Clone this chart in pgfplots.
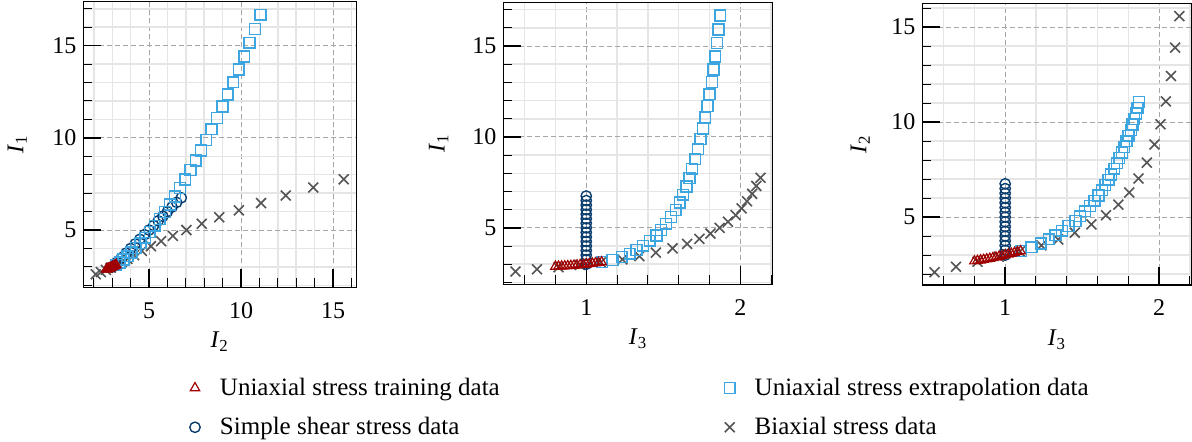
\documentclass[border=0pt]{standalone}
\usepackage{fontspec}
\setmainfont{Liberation Serif}
\usepackage{pgfplots}
\usepackage{pgfplotstable}
\pgfplotsset{compat=1.18}
\definecolor{trainred}{HTML}{A00000}
\definecolor{extblue}{HTML}{3DA5E0}
\definecolor{shearblue}{HTML}{0B3D6E}
\definecolor{biaxgray}{HTML}{555555}

\pgfplotstableread{
I1 I2 I3
2.876 2.681 0.80
2.881 2.705 0.82
2.888 2.730 0.84
2.896 2.758 0.86
2.906 2.787 0.88
2.918 2.819 0.90
2.932 2.852 0.92
2.946 2.887 0.94
2.963 2.923 0.96
2.981 2.961 0.98
3.000 3.000 1.00
3.021 3.041 1.02
3.043 3.083 1.04
3.066 3.126 1.06
3.091 3.171 1.08
3.117 3.216 1.10
}\train

\pgfplotstableread{
I1 I2 I3
3.12 3.22 1.104
3.24 3.41 1.170
3.40 3.61 1.231
3.58 3.83 1.283
3.79 4.04 1.326
4.02 4.28 1.369
4.29 4.53 1.412
4.58 4.79 1.456
4.89 5.04 1.486
5.23 5.31 1.518
5.60 5.58 1.551
5.98 5.86 1.581
6.39 6.14 1.607
6.82 6.41 1.629
7.28 6.69 1.650
7.75 6.97 1.671
8.25 7.25 1.687
8.77 7.54 1.708
9.32 7.83 1.726
9.88 8.11 1.741
10.47 8.40 1.758
11.07 8.69 1.773
11.70 8.99 1.788
12.35 9.28 1.801
13.02 9.58 1.817
13.71 9.87 1.827
14.42 10.17 1.838
15.16 10.46 1.849
15.91 10.76 1.859
16.68 11.06 1.870
}\extrap

\pgfplotstableread{
I1 I2 I3
3.00 3.00 1
3.25 3.25 1
3.50 3.50 1
3.75 3.75 1
4.00 4.00 1
4.25 4.25 1
4.50 4.50 1
4.75 4.75 1
5.00 5.00 1
5.25 5.25 1
5.50 5.50 1
5.75 5.75 1
6.00 6.00 1
6.25 6.25 1
6.50 6.50 1
6.75 6.75 1
}\shear

\pgfplotstableread{
I1 I2 I3
2.601 2.100 0.541
2.721 2.385 0.680
2.836 2.653 0.820
2.959 2.917 0.958
3.100 3.196 1.095
3.267 3.510 1.235
3.441 3.819 1.345
3.642 4.182 1.452
3.872 4.612 1.560
4.123 5.100 1.655
4.395 5.657 1.735
4.688 6.297 1.806
5.003 7.029 1.866
5.339 7.865 1.920
5.695 8.817 1.970
6.070 9.886 2.009
6.463 11.087 2.044
6.875 12.430 2.077
7.306 13.925 2.104
7.752 15.580 2.131
}\biax

\pgfplotsset{
  myaxis/.style={
    scale only axis,
    axis line style={black, line width=0.6bp},
    tick align=inside,
    xtick pos=left, ytick pos=left,
    major tick length=9bp, minor tick length=4.5bp,
    major tick style={black, line width=0.75bp},
    minor tick style={black, line width=0.5bp},
    grid=both,
    major grid style={color=black!35, line width=0.5bp, dash pattern=on 2.5bp off 1.5bp},
    minor grid style={color=black!10, line width=0.75bp},
    ticklabel style={font=\fontsize{12bp}{14bp}\selectfont},
    /pgf/number format/assume math mode=true,
    xticklabel style={yshift=-4bp},
    label style={font=\fontsize{12bp}{14bp}\selectfont},
    xlabel style={at={(axis description cs:0.5,0)}, anchor=base, yshift=-30.3bp},
    ylabel style={at={(axis description cs:0,0.5)}, anchor=base},
  },
  I1ax/.style={ymin=1.896, ymax=17.384, ytick={5,10,15}, minor ytick={2,3,4,6,7,8,9,11,12,13,14,16,17}},
  I2ax/.style={ymin=1.426, ymax=16.254, ytick={5,10,15}, minor ytick={2,3,4,6,7,8,9,11,12,13,14,16}},
  I3x/.style={xmin=0.4615, xmax=2.2105, xtick={1,2}, minor xtick={0.6,0.8,1.2,1.4,1.6,1.8,2.2}},
  pbiax/.style={only marks, mark=x, mark size=3.5bp, color=biaxgray, line width=0.8bp},
  pshear/.style={only marks, mark=o, mark size=2.6bp, color=shearblue, line width=0.7bp},
  pext/.style={only marks, mark=square, mark size=2.7bp, color=extblue, line width=0.75bp},
  ptrain/.style={only marks, mark=triangle, mark size=2.7bp, color=trainred, line width=0.6bp},
  limg/.style={legend image code/.code={%
    \path[draw=none, fill=none] (0cm,-2bp) rectangle (19bp,2bp);
    \draw[mark repeat=2,mark phase=2,##1] plot coordinates {(0cm,0cm) (0.3cm,0cm) (0.6cm,0cm)};}},
}

\begin{document}
\begin{tikzpicture}
\path[use as bounding box] (0,0) rectangle (596bp,221bp);

% Panel 1
\begin{axis}[myaxis, I1ax,
  at={(41.65bp,77.35bp)}, anchor=south west,
  width=136.4bp, height=142.8bp,
  xmin=1.426, xmax=16.254, xtick={5,10,15}, minor xtick={2,3,4,6,7,8,9,11,12,13,14,16},
  ylabel style={yshift=30bp},
  xlabel={\textit{I}\textsubscript{2}}, ylabel={\textit{I}\textsubscript{1}},
  legend columns=2,
  legend style={at={(axis description cs:0.3471,-0.3029)}, anchor=north west,
    draw=none, fill=none, inner sep=0pt, outer sep=0pt, row sep=5.5bp,
    font=\fontsize{12.5bp}{15bp}\selectfont,
    /tikz/column 2/.style={column sep=104.5bp}},
  legend cell align=left]
\addlegendimage{ptrain, limg}
\addlegendentry{Uniaxial stress training data}
\addlegendimage{pext, limg}
\addlegendentry{Uniaxial stress extrapolation data}
\addlegendimage{pshear, limg}
\addlegendentry{Simple shear stress data}
\addlegendimage{pbiax, limg}
\addlegendentry{Biaxial stress data}
\addplot[pbiax, forget plot] table[x=I2, y=I1] {\biax};
\addplot[pshear, forget plot] table[x=I2, y=I1] {\shear};
\addplot[pext, forget plot] table[x=I2, y=I1] {\extrap};
\addplot[ptrain, forget plot] table[x=I2, y=I1] {\train};
\end{axis}

% Panel 2
\begin{axis}[myaxis, I1ax, I3x,
  at={(251.65bp,78.85bp)}, anchor=south west,
  width=134.7bp, height=140.8bp,
  ylabel style={yshift=29.3bp},
  xlabel={\textit{I}\textsubscript{3}}, ylabel={\textit{I}\textsubscript{1}}]
\addplot[pbiax] table[x=I3, y=I1] {\biax};
\addplot[pshear] table[x=I3, y=I1] {\shear};
\addplot[pext] table[x=I3, y=I1] {\extrap};
\addplot[ptrain] table[x=I3, y=I1] {\train};
\end{axis}

% Panel 3
\begin{axis}[myaxis, I2ax, I3x,
  at={(461.15bp,78.5bp)}, anchor=south west,
  width=134.6bp, height=140.85bp,
  ylabel style={yshift=28bp},
  xlabel={\textit{I}\textsubscript{3}}, ylabel={\textit{I}\textsubscript{2}}]
\addplot[pbiax] table[x=I3, y=I2] {\biax};
\addplot[pshear] table[x=I3, y=I2] {\shear};
\addplot[pext] table[x=I3, y=I2] {\extrap};
\addplot[ptrain] table[x=I3, y=I2] {\train};
\end{axis}
\end{tikzpicture}
\end{document}
